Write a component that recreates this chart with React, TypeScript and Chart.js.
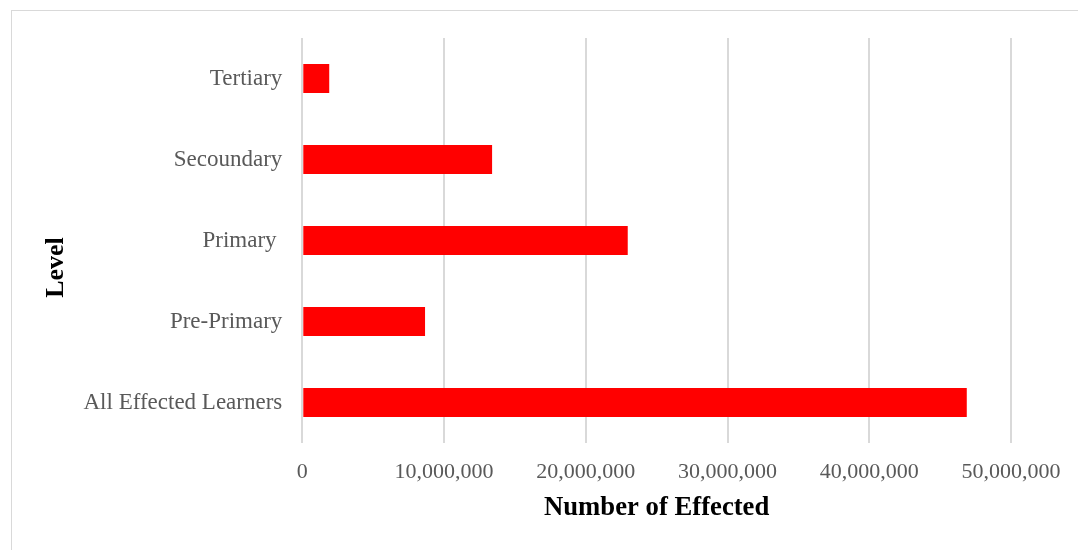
import React, { useEffect, useRef } from "react";
import { Chart, registerables } from "chart.js";

Chart.register(...registerables);

const categories = ["Tertiary", "Secoundary", "Primary ", "Pre-Primary", "All Effected Learners"];
const values = [1900000, 13390000, 22960000, 8660000, 46880000];
const xTickMin = 0;
const xTickMax = 50000000;
const xTickStep = 10000000;
const xTitle = "Number of Effected";
const yTitle = "Level";

const FONT = "'Liberation Serif', 'Times New Roman', serif";

const yTitlePlugin = {
  id: "yTitlePlugin",
  afterDraw(chart: any) {
    const { ctx, chartArea } = chart;
    ctx.save();
    ctx.translate(56, (chartArea.top + chartArea.bottom) / 2 + 27);
    ctx.rotate(-Math.PI / 2);
    ctx.font = `bold 26px ${FONT}`;
    ctx.fillStyle = "#000000";
    ctx.textAlign = "center";
    ctx.textBaseline = "middle";
    ctx.fillText(yTitle, 0, 0);
    ctx.restore();
  },
};

export default function App() {
  const ref = useRef<HTMLCanvasElement | null>(null);

  useEffect(() => {
    if (!ref.current) return;
    const chart = new Chart(ref.current, {
      type: "bar",
      data: {
        labels: categories,
        datasets: [
          {
            data: values,
            backgroundColor: "#ff0000",
            borderWidth: 0,
            barPercentage: 0.36,
            categoryPercentage: 1,
          },
        ],
      },
      plugins: [yTitlePlugin],
      options: {
        indexAxis: "y",
        responsive: false,
        animation: false,
        layout: { padding: { left: 38, top: 38, right: 67, bottom: 26 } },
        plugins: { legend: { display: false }, tooltip: { enabled: false } },
        scales: {
          x: {
            min: xTickMin,
            max: xTickMax,
            ticks: {
              stepSize: xTickStep,
              color: "#595959",
              font: { family: FONT, size: 22 },
              padding: 16,
              maxRotation: 0,
              callback: (v: any) => Number(v).toLocaleString("en-US"),
            },
            grid: { color: "#d9d9d9", lineWidth: 2, drawTicks: false },
            border: { display: false },
            title: {
              display: true,
              text: xTitle,
              color: "#000000",
              font: { family: FONT, size: 26.7, weight: "bold" },
              padding: { top: 0, bottom: 0 },
            },
            afterFit: (scale: any) => {
              scale.height = 81;
            },
          },
          y: {
            ticks: {
              color: "#595959",
              font: { family: FONT, size: 23 },
              padding: 20,
            },
            grid: { display: false, drawTicks: false },
            border: { display: false },
            afterFit: (scale: any) => {
              scale.width = 264.3;
            },
          },
        },
      },
    });
    return () => chart.destroy();
  }, []);

  return (
    <div style={{ position: "fixed", left: 0, top: 0, width: 1078, height: 550, overflow: "hidden", background: "#ffffff" }}>
      <div
        style={{
          position: "absolute",
          left: 11,
          top: 10,
          width: 1080,
          height: 560,
          border: "1px solid #d9d9d9",
          boxSizing: "border-box",
        }}
      />
      <canvas ref={ref} width={1078} height={550} style={{ position: "absolute", left: 0, top: 0 }} />
    </div>
  );
}
